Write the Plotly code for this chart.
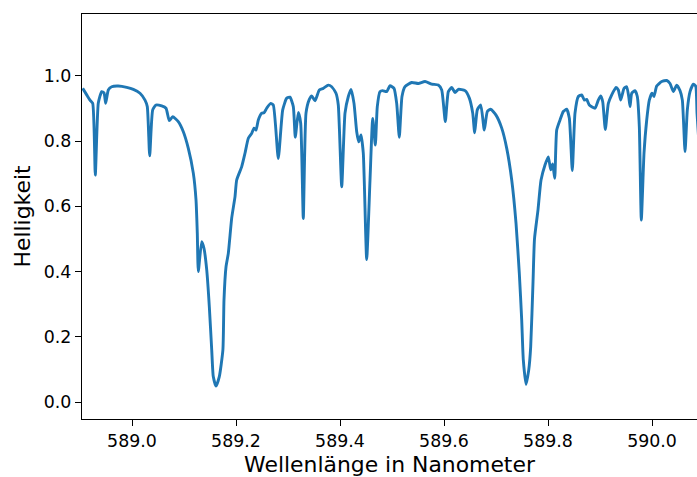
import plotly.graph_objects as go

wavelength_nm = [
    588.9052, 588.9129, 588.9192, 588.9244, 588.9294, 588.9352, 588.9417, 588.9462, 588.9494, 588.9544,
    588.9610, 588.9737, 588.9898, 589.0025, 589.0154, 589.0250, 589.0294, 589.0340, 589.0398, 589.0462,
    589.0571, 589.0654, 589.0717, 589.0783, 589.0890, 589.0987, 589.1083, 589.1179, 589.1231, 589.1256,
    589.1275, 589.1340, 589.1385, 589.1437, 589.1487, 589.1533, 589.1563, 589.1615, 589.1679, 589.1748,
    589.1769, 589.1808, 589.1852, 589.1917, 589.1981, 589.2013, 589.2110, 589.2173, 589.2237, 589.2302,
    589.2346, 589.2385, 589.2429, 589.2494, 589.2538, 589.2590, 589.2667, 589.2717, 589.2813, 589.2898,
    589.2975, 589.3038, 589.3102, 589.3140, 589.3198, 589.3244, 589.3294, 589.3346, 589.3410, 589.3456,
    589.3519, 589.3602, 589.3679, 589.3775, 589.3840, 589.3923, 589.3967, 589.4033, 589.4096, 589.4160,
    589.4212, 589.4269, 589.4321, 589.4360, 589.4404, 589.4448, 589.4513, 589.4577, 589.4629, 589.4679,
    589.4717, 589.4769, 589.4821, 589.4898, 589.4962, 589.5038, 589.5090, 589.5140, 589.5192, 589.5250,
    589.5379, 589.5506, 589.5635, 589.5763, 589.5890, 589.5956, 589.6025, 589.6083, 589.6148, 589.6212,
    589.6275, 589.6404, 589.6487, 589.6552, 589.6590, 589.6640, 589.6706, 589.6775, 589.6833, 589.6898,
    589.7000, 589.7110, 589.7206, 589.7302, 589.7385, 589.7448, 589.7494, 589.7525, 589.7577, 589.7629,
    589.7667, 589.7712, 589.7740, 589.7808, 589.7865, 589.7942, 589.8006, 589.8052, 589.8090, 589.8129,
    589.8167, 589.8231, 589.8294, 589.8360, 589.8410, 589.8467, 589.8519, 589.8583, 589.8648, 589.8698,
    589.8744, 589.8794, 589.8904, 589.8967, 589.9013, 589.9052, 589.9102, 589.9160, 589.9225, 589.9308,
    589.9352, 589.9398, 589.9462, 589.9513, 589.9552, 589.9577, 589.9610, 589.9673, 589.9717, 589.9756,
    589.9794, 589.9846, 589.9898, 589.9948, 590.0000, 590.0038, 590.0090, 590.0187, 590.0283, 590.0346,
    590.0410, 590.0475, 590.0538, 590.0583, 590.0635, 590.0679, 590.0731, 590.0794, 590.0840, 590.0865,
    590.0920,
]

brightness = [
    0.962, 0.942, 0.926, 0.916, 0.696, 0.917, 0.952, 0.948, 0.916, 0.957,
    0.967, 0.969, 0.965, 0.959, 0.947, 0.926, 0.906, 0.755, 0.896, 0.911,
    0.908, 0.901, 0.863, 0.875, 0.860, 0.829, 0.778, 0.702, 0.620, 0.517,
    0.400, 0.492, 0.471, 0.405, 0.292, 0.160, 0.078, 0.049, 0.078, 0.160,
    0.313, 0.415, 0.456, 0.564, 0.630, 0.681, 0.722, 0.763, 0.809, 0.824,
    0.840, 0.834, 0.865, 0.886, 0.887, 0.901, 0.916, 0.911, 0.747, 0.896,
    0.932, 0.935, 0.906, 0.812, 0.888, 0.855, 0.563, 0.886, 0.928, 0.939,
    0.924, 0.957, 0.962, 0.972, 0.967, 0.947, 0.911, 0.660, 0.886, 0.937,
    0.959, 0.916, 0.829, 0.798, 0.819, 0.763, 0.437, 0.681, 0.870, 0.788,
    0.906, 0.952, 0.955, 0.952, 0.970, 0.962, 0.916, 0.812, 0.937, 0.967,
    0.980, 0.977, 0.983, 0.975, 0.972, 0.957, 0.860, 0.952, 0.965, 0.949,
    0.959, 0.955, 0.932, 0.886, 0.826, 0.896, 0.911, 0.834, 0.891, 0.898,
    0.880, 0.840, 0.778, 0.681, 0.548, 0.395, 0.252, 0.129, 0.054, 0.098,
    0.170, 0.370, 0.500, 0.590, 0.680, 0.727, 0.752, 0.712, 0.730, 0.686,
    0.834, 0.865, 0.891, 0.898, 0.870, 0.710, 0.886, 0.937, 0.942, 0.926,
    0.928, 0.911, 0.901, 0.926, 0.939, 0.921, 0.836, 0.916, 0.942, 0.965,
    0.957, 0.926, 0.962, 0.967, 0.937, 0.906, 0.947, 0.955, 0.937, 0.844,
    0.558, 0.763, 0.865, 0.926, 0.947, 0.937, 0.969, 0.983, 0.986, 0.977,
    0.952, 0.972, 0.955, 0.926, 0.768, 0.896, 0.952, 0.975, 0.969, 0.887,
    0.750,
]

x_ticks = [589.0, 589.2, 589.4, 589.6, 589.8, 590.0]
y_ticks = [0.0, 0.2, 0.4, 0.6, 0.8, 1.0]

fig = go.Figure(
    go.Scatter(
        x=wavelength_nm,
        y=brightness,
        mode="lines",
        line=dict(color="#1f77b4", width=2.9, shape="spline", smoothing=0.5),
        showlegend=False,
        hoverinfo="skip",
    )
)

font_family = "DejaVu Sans"
fig.update_layout(
    width=697,
    height=477,
    margin=dict(l=82, r=0, t=14, b=58),
    paper_bgcolor="white",
    plot_bgcolor="white",
    font=dict(family=font_family, color="black", size=17.4),
)
fig.update_xaxes(
    range=[588.90385, 590.0865],
    tickvals=x_ticks,
    ticktext=[f"{v:.1f}" for v in x_ticks],
    ticks="outside",
    ticklen=6,
    tickwidth=1.4,
    tickcolor="black",
    showgrid=False,
    zeroline=False,
    showline=True,
    linecolor="black",
    linewidth=1.4,
    mirror=True,
    tickfont=dict(size=17.4, family=font_family),
    title=dict(text="Wellenlänge in Nanometer", font=dict(size=21.9, family=font_family), standoff=11),
    automargin=False,
)
fig.update_yaxes(
    range=[-0.052, 1.19],
    tickvals=y_ticks,
    ticktext=[f"{v:.1f}" for v in y_ticks],
    ticks="outside",
    ticklen=6,
    tickwidth=1.4,
    tickcolor="black",
    showgrid=False,
    zeroline=False,
    showline=True,
    linecolor="black",
    linewidth=1.4,
    mirror=False,
    tickfont=dict(size=17.4, family=font_family),
    title=dict(text="Helligkeit", font=dict(size=21.9, family=font_family), standoff=6),
    automargin=False,
)

fig.write_html("out.html")
